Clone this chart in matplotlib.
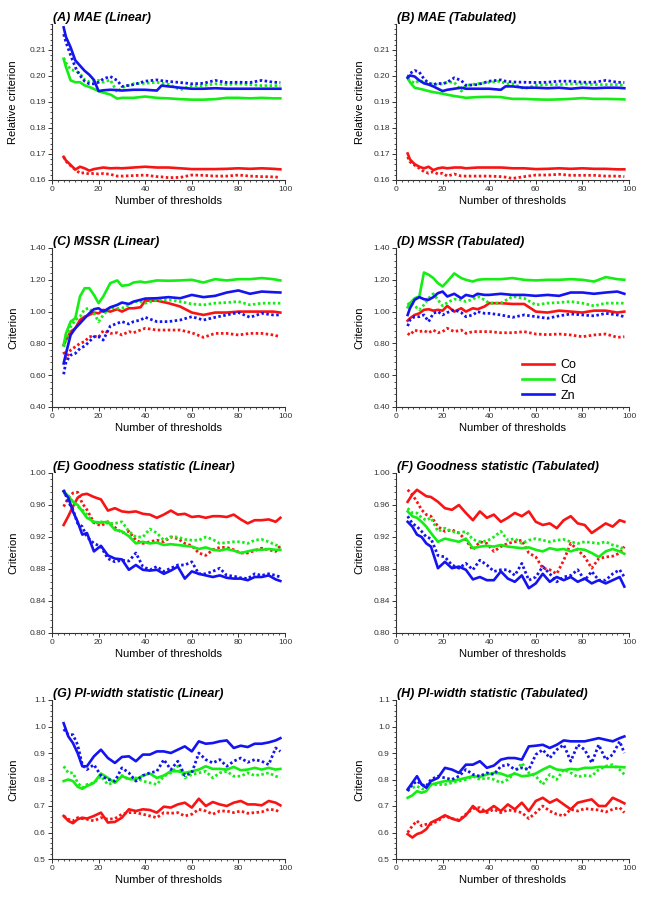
import numpy as np
import matplotlib
matplotlib.use("Agg")
import matplotlib.pyplot as plt
from matplotlib.ticker import MultipleLocator, FormatStrFormatter
from matplotlib.lines import Line2D

plt.rcParams['font.family'] = ['Liberation Sans', 'DejaVu Sans']

# x grids (number of thresholds)
x_ab = [5, 6, 8, 10, 12, 14, 16, 18, 20, 22, 25, 28, 30, 35, 40, 45, 47, 50, 55, 60, 65, 70, 75, 80, 85, 90, 95, 98]
x_cd = [5, 6, 8, 10, 12, 14, 16, 18, 20, 22, 25, 28, 30, 33, 35, 38, 40, 45, 50, 55, 60, 65, 70, 75, 80, 85, 90, 95, 98]
x_eh = [5, 7, 9, 11, 13, 15, 18, 21, 24, 27, 30, 33, 36, 39, 42, 45, 48, 51, 54, 57, 60, 63, 66, 69, 72, 75, 78, 81, 84, 87, 90, 93, 96, 98]

# (A) MAE (Linear)
a_co = [0.1689, 0.1675, 0.1658, 0.1640, 0.1651, 0.1645, 0.1636, 0.1642, 0.1645, 0.1648, 0.1645, 0.1646, 0.1645, 0.1648, 0.1651, 0.1648, 0.1648, 0.1648, 0.1645, 0.1642, 0.1642, 0.1642, 0.1643, 0.1645, 0.1643, 0.1645, 0.1643, 0.1641]
a_co_d = [0.1689, 0.1672, 0.1655, 0.1640, 0.1626, 0.1628, 0.1623, 0.1626, 0.1623, 0.1625, 0.1622, 0.1615, 0.1615, 0.1617, 0.1619, 0.1613, 0.1612, 0.1609, 0.1610, 0.1619, 0.1618, 0.1615, 0.1615, 0.1619, 0.1615, 0.1613, 0.1612, 0.1610]
a_cd = [0.2066, 0.2034, 0.1983, 0.1976, 0.1976, 0.1964, 0.1958, 0.1950, 0.1942, 0.1936, 0.1929, 0.1913, 0.1916, 0.1916, 0.1921, 0.1916, 0.1915, 0.1914, 0.1911, 0.1909, 0.1909, 0.1911, 0.1916, 0.1916, 0.1914, 0.1916, 0.1914, 0.1914]
a_cd_d = [0.2070, 0.2050, 0.2025, 0.2020, 0.2010, 0.1985, 0.1978, 0.1983, 0.1983, 0.1976, 0.1985, 0.1938, 0.1955, 0.1970, 0.1972, 0.1976, 0.1972, 0.1968, 0.1947, 0.1963, 0.1963, 0.1970, 0.1967, 0.1970, 0.1967, 0.1963, 0.1963, 0.1963]
a_zn = [0.2187, 0.2150, 0.2110, 0.2060, 0.2040, 0.2020, 0.2005, 0.1985, 0.1942, 0.1945, 0.1947, 0.1946, 0.1944, 0.1947, 0.1947, 0.1944, 0.1963, 0.1960, 0.1955, 0.1951, 0.1951, 0.1953, 0.1951, 0.1951, 0.1951, 0.1951, 0.1951, 0.1951]
a_zn_d = [0.2161, 0.2130, 0.2080, 0.2034, 0.2002, 0.1980, 0.1970, 0.1970, 0.1976, 0.1989, 0.1998, 0.1983, 0.1960, 0.1967, 0.1980, 0.1985, 0.1982, 0.1979, 0.1975, 0.1970, 0.1972, 0.1983, 0.1975, 0.1976, 0.1975, 0.1983, 0.1976, 0.1975]

# (B) MAE (Tabulated)
b_co = [0.1702, 0.1679, 0.1661, 0.1651, 0.1645, 0.1651, 0.1638, 0.1645, 0.1648, 0.1645, 0.1648, 0.1648, 0.1645, 0.1648, 0.1648, 0.1648, 0.1647, 0.1645, 0.1645, 0.1642, 0.1643, 0.1645, 0.1643, 0.1645, 0.1643, 0.1643, 0.1641, 0.1641]
b_co_d = [0.1689, 0.1670, 0.1657, 0.1645, 0.1632, 0.1626, 0.1632, 0.1623, 0.1626, 0.1615, 0.1623, 0.1615, 0.1615, 0.1615, 0.1615, 0.1613, 0.1611, 0.1606, 0.1613, 0.1619, 0.1619, 0.1622, 0.1618, 0.1618, 0.1618, 0.1615, 0.1615, 0.1613]
b_cd = [0.1993, 0.1976, 0.1955, 0.1951, 0.1947, 0.1942, 0.1938, 0.1935, 0.1932, 0.1928, 0.1923, 0.1919, 0.1916, 0.1919, 0.1920, 0.1919, 0.1916, 0.1912, 0.1912, 0.1910, 0.1909, 0.1910, 0.1912, 0.1915, 0.1912, 0.1912, 0.1911, 0.1910]
b_cd_d = [0.1989, 0.1983, 0.1972, 0.1983, 0.1976, 0.1970, 0.1970, 0.1967, 0.1970, 0.1976, 0.1976, 0.1942, 0.1964, 0.1970, 0.1976, 0.1980, 0.1970, 0.1970, 0.1951, 0.1964, 0.1967, 0.1967, 0.1970, 0.1970, 0.1967, 0.1967, 0.1967, 0.1964]
b_zn = [0.1993, 0.2002, 0.1998, 0.1983, 0.1972, 0.1967, 0.1960, 0.1951, 0.1942, 0.1947, 0.1951, 0.1955, 0.1951, 0.1951, 0.1951, 0.1947, 0.1960, 0.1960, 0.1955, 0.1955, 0.1953, 0.1955, 0.1951, 0.1955, 0.1953, 0.1955, 0.1955, 0.1953]
b_zn_d = [0.1995, 0.2010, 0.2021, 0.2015, 0.1989, 0.1972, 0.1967, 0.1972, 0.1970, 0.1976, 0.1993, 0.1983, 0.1964, 0.1967, 0.1980, 0.1985, 0.1980, 0.1977, 0.1976, 0.1975, 0.1976, 0.1980, 0.1980, 0.1976, 0.1976, 0.1983, 0.1976, 0.1975]

# (C) MSSR (Linear)
c_co = [0.790, 0.821, 0.874, 0.895, 0.947, 0.968, 0.979, 0.994, 0.989, 1.011, 1.000, 1.015, 1.000, 1.021, 1.021, 1.027, 1.069, 1.069, 1.053, 1.032, 0.994, 0.979, 0.994, 0.994, 1.000, 1.000, 1.000, 1.000, 0.994]
c_co_d = [0.747, 0.705, 0.758, 0.779, 0.800, 0.811, 0.842, 0.846, 0.838, 0.880, 0.863, 0.867, 0.853, 0.874, 0.867, 0.884, 0.895, 0.884, 0.884, 0.884, 0.867, 0.838, 0.863, 0.863, 0.853, 0.863, 0.863, 0.853, 0.842]
c_cd = [0.789, 0.863, 0.937, 0.958, 1.095, 1.147, 1.147, 1.105, 1.053, 1.095, 1.179, 1.196, 1.162, 1.168, 1.183, 1.189, 1.183, 1.196, 1.194, 1.196, 1.200, 1.183, 1.204, 1.196, 1.204, 1.204, 1.211, 1.204, 1.196]
c_cd_d = [0.779, 0.821, 0.905, 0.947, 0.968, 1.015, 1.021, 0.989, 0.937, 0.979, 1.027, 1.021, 1.021, 1.042, 1.063, 1.063, 1.053, 1.074, 1.074, 1.063, 1.048, 1.042, 1.053, 1.057, 1.063, 1.042, 1.053, 1.053, 1.053]
c_zn = [0.674, 0.737, 0.853, 0.895, 0.926, 0.958, 0.989, 1.015, 1.021, 1.000, 1.027, 1.042, 1.057, 1.048, 1.063, 1.074, 1.082, 1.084, 1.091, 1.084, 1.105, 1.091, 1.099, 1.120, 1.133, 1.112, 1.126, 1.122, 1.120]
c_zn_d = [0.606, 0.684, 0.726, 0.737, 0.768, 0.783, 0.811, 0.842, 0.842, 0.821, 0.909, 0.926, 0.937, 0.922, 0.937, 0.947, 0.964, 0.937, 0.937, 0.947, 0.968, 0.947, 0.964, 0.979, 0.994, 0.964, 0.989, 0.979, 0.979]

# (D) MSSR (Tabulated)
d_co = [0.943, 0.958, 0.979, 0.989, 1.011, 1.015, 1.006, 1.011, 1.006, 1.036, 1.000, 1.021, 1.000, 1.021, 1.015, 1.032, 1.053, 1.053, 1.048, 1.048, 1.000, 0.994, 1.006, 1.000, 0.994, 1.006, 1.006, 0.994, 1.000]
d_co_d = [0.863, 0.853, 0.884, 0.874, 0.880, 0.867, 0.884, 0.867, 0.874, 0.895, 0.874, 0.884, 0.863, 0.874, 0.874, 0.874, 0.874, 0.867, 0.867, 0.874, 0.859, 0.855, 0.859, 0.853, 0.842, 0.853, 0.859, 0.838, 0.842]
d_cd = [1.027, 1.053, 1.084, 1.095, 1.246, 1.232, 1.211, 1.179, 1.158, 1.189, 1.240, 1.211, 1.200, 1.189, 1.200, 1.204, 1.204, 1.204, 1.211, 1.200, 1.196, 1.200, 1.200, 1.204, 1.200, 1.189, 1.217, 1.204, 1.200]
d_cd_d = [1.042, 1.057, 1.036, 1.011, 1.042, 1.084, 1.112, 1.074, 1.036, 1.057, 1.078, 1.074, 1.063, 1.078, 1.095, 1.074, 1.053, 1.053, 1.095, 1.084, 1.042, 1.053, 1.057, 1.063, 1.053, 1.036, 1.053, 1.053, 1.053]
d_zn = [0.979, 1.021, 1.074, 1.091, 1.078, 1.074, 1.091, 1.116, 1.126, 1.095, 1.112, 1.084, 1.105, 1.095, 1.112, 1.105, 1.105, 1.112, 1.105, 1.105, 1.099, 1.105, 1.099, 1.120, 1.120, 1.112, 1.120, 1.126, 1.112]
d_zn_d = [0.909, 0.947, 0.968, 0.968, 0.979, 0.937, 0.989, 1.000, 0.979, 0.994, 1.011, 0.994, 0.968, 0.979, 1.000, 0.989, 0.989, 0.979, 0.964, 0.979, 0.968, 0.958, 0.973, 0.985, 0.979, 0.973, 0.989, 0.979, 0.968]

# (E) Goodness statistic (Linear)
e_co = [0.935, 0.946, 0.958, 0.969, 0.973, 0.974, 0.970, 0.967, 0.953, 0.956, 0.952, 0.951, 0.952, 0.949, 0.948, 0.944, 0.948, 0.953, 0.948, 0.949, 0.945, 0.946, 0.944, 0.946, 0.946, 0.945, 0.948, 0.942, 0.937, 0.941, 0.941, 0.942, 0.939, 0.944]
e_co_d = [0.958, 0.969, 0.975, 0.976, 0.962, 0.954, 0.938, 0.934, 0.939, 0.932, 0.925, 0.927, 0.916, 0.912, 0.914, 0.916, 0.914, 0.920, 0.918, 0.912, 0.909, 0.900, 0.897, 0.904, 0.907, 0.907, 0.904, 0.900, 0.900, 0.903, 0.906, 0.904, 0.902, 0.909]
e_cd = [0.977, 0.971, 0.964, 0.960, 0.952, 0.944, 0.939, 0.938, 0.939, 0.929, 0.927, 0.921, 0.912, 0.914, 0.912, 0.913, 0.910, 0.911, 0.910, 0.909, 0.908, 0.905, 0.907, 0.904, 0.903, 0.905, 0.903, 0.900, 0.902, 0.904, 0.904, 0.905, 0.904, 0.904]
e_cd_d = [0.975, 0.971, 0.964, 0.958, 0.954, 0.948, 0.937, 0.939, 0.937, 0.937, 0.939, 0.927, 0.920, 0.920, 0.930, 0.925, 0.916, 0.920, 0.920, 0.917, 0.916, 0.916, 0.920, 0.917, 0.912, 0.913, 0.914, 0.914, 0.912, 0.916, 0.917, 0.914, 0.910, 0.909]
e_zn = [0.977, 0.969, 0.952, 0.939, 0.923, 0.925, 0.902, 0.909, 0.897, 0.893, 0.892, 0.879, 0.885, 0.879, 0.878, 0.879, 0.874, 0.878, 0.883, 0.868, 0.877, 0.874, 0.872, 0.870, 0.872, 0.869, 0.868, 0.868, 0.866, 0.870, 0.870, 0.872, 0.867, 0.865]
e_zn_d = [0.979, 0.964, 0.954, 0.937, 0.933, 0.920, 0.912, 0.908, 0.893, 0.889, 0.891, 0.890, 0.900, 0.883, 0.879, 0.883, 0.877, 0.881, 0.885, 0.885, 0.889, 0.874, 0.874, 0.877, 0.881, 0.872, 0.871, 0.869, 0.868, 0.874, 0.872, 0.874, 0.872, 0.870]

# (F) Goodness statistic (Tabulated)
f_co = [0.964, 0.973, 0.979, 0.975, 0.971, 0.970, 0.964, 0.956, 0.954, 0.960, 0.950, 0.941, 0.952, 0.944, 0.948, 0.939, 0.944, 0.950, 0.946, 0.952, 0.939, 0.935, 0.937, 0.931, 0.941, 0.946, 0.937, 0.935, 0.925, 0.931, 0.937, 0.933, 0.941, 0.939]
f_co_d = [0.979, 0.973, 0.964, 0.954, 0.948, 0.946, 0.933, 0.927, 0.929, 0.925, 0.916, 0.904, 0.914, 0.912, 0.902, 0.908, 0.912, 0.914, 0.916, 0.900, 0.895, 0.881, 0.879, 0.874, 0.891, 0.912, 0.904, 0.895, 0.881, 0.893, 0.895, 0.896, 0.900, 0.908]
f_cd = [0.952, 0.946, 0.944, 0.939, 0.933, 0.925, 0.914, 0.918, 0.916, 0.914, 0.918, 0.906, 0.908, 0.909, 0.908, 0.910, 0.908, 0.907, 0.906, 0.907, 0.904, 0.902, 0.906, 0.904, 0.905, 0.902, 0.905, 0.904, 0.900, 0.895, 0.902, 0.905, 0.902, 0.899]
f_cd_d = [0.956, 0.950, 0.950, 0.944, 0.941, 0.944, 0.927, 0.931, 0.927, 0.925, 0.927, 0.917, 0.914, 0.915, 0.920, 0.927, 0.916, 0.918, 0.912, 0.916, 0.918, 0.916, 0.914, 0.916, 0.917, 0.914, 0.912, 0.914, 0.913, 0.912, 0.914, 0.910, 0.908, 0.904]
f_zn = [0.939, 0.933, 0.923, 0.920, 0.912, 0.908, 0.881, 0.889, 0.881, 0.883, 0.879, 0.867, 0.870, 0.866, 0.866, 0.877, 0.868, 0.864, 0.872, 0.856, 0.862, 0.874, 0.864, 0.870, 0.866, 0.870, 0.864, 0.868, 0.862, 0.866, 0.862, 0.866, 0.870, 0.858]
f_zn_d = [0.946, 0.937, 0.933, 0.927, 0.920, 0.918, 0.897, 0.895, 0.885, 0.881, 0.887, 0.879, 0.891, 0.885, 0.877, 0.879, 0.879, 0.872, 0.887, 0.866, 0.870, 0.883, 0.874, 0.864, 0.870, 0.872, 0.879, 0.866, 0.877, 0.866, 0.866, 0.874, 0.879, 0.870]

# (G) PI-width statistic (Linear)
g_co = [0.6625, 0.644, 0.635, 0.650, 0.656, 0.6525, 0.6625, 0.675, 0.6375, 0.640, 0.656, 0.6875, 0.681, 0.6875, 0.685, 0.675, 0.6975, 0.694, 0.706, 0.7125, 0.694, 0.7275, 0.700, 0.715, 0.706, 0.700, 0.7125, 0.719, 0.706, 0.706, 0.7025, 0.719, 0.7125, 0.7025]
g_co_d = [0.6625, 0.650, 0.644, 0.656, 0.6525, 0.650, 0.644, 0.656, 0.650, 0.6525, 0.669, 0.675, 0.675, 0.669, 0.6625, 0.656, 0.675, 0.6725, 0.675, 0.6625, 0.669, 0.6875, 0.681, 0.669, 0.681, 0.681, 0.675, 0.681, 0.6725, 0.675, 0.6775, 0.6875, 0.685, 0.675]
g_cd = [0.794, 0.800, 0.794, 0.7725, 0.765, 0.775, 0.7875, 0.8225, 0.806, 0.7875, 0.8125, 0.8025, 0.800, 0.815, 0.8225, 0.806, 0.815, 0.831, 0.831, 0.825, 0.831, 0.8375, 0.850, 0.840, 0.840, 0.8375, 0.8475, 0.835, 0.8375, 0.844, 0.8375, 0.844, 0.8375, 0.840]
g_cd_d = [0.850, 0.825, 0.825, 0.7875, 0.769, 0.781, 0.7875, 0.8125, 0.781, 0.790, 0.815, 0.800, 0.806, 0.794, 0.7875, 0.781, 0.8125, 0.825, 0.850, 0.806, 0.819, 0.825, 0.831, 0.806, 0.825, 0.831, 0.8125, 0.8125, 0.825, 0.815, 0.819, 0.825, 0.8125, 0.806]
g_zn = [1.0125, 0.9625, 0.9375, 0.900, 0.850, 0.850, 0.8875, 0.9125, 0.881, 0.8625, 0.885, 0.8875, 0.869, 0.894, 0.894, 0.906, 0.906, 0.900, 0.9125, 0.925, 0.906, 0.944, 0.935, 0.9375, 0.944, 0.9475, 0.919, 0.9275, 0.9225, 0.935, 0.935, 0.940, 0.9475, 0.956]
g_zn_d = [0.990, 0.969, 0.969, 0.931, 0.856, 0.8375, 0.856, 0.815, 0.800, 0.794, 0.844, 0.825, 0.794, 0.815, 0.825, 0.831, 0.875, 0.8375, 0.869, 0.815, 0.825, 0.900, 0.875, 0.8625, 0.875, 0.850, 0.869, 0.881, 0.865, 0.875, 0.869, 0.856, 0.919, 0.906]

# (H) PI-width statistic (Tabulated)
h_co = [0.594, 0.581, 0.594, 0.600, 0.6125, 0.6375, 0.650, 0.665, 0.6525, 0.644, 0.665, 0.700, 0.6775, 0.681, 0.700, 0.681, 0.706, 0.6875, 0.7125, 0.681, 0.719, 0.731, 0.7125, 0.725, 0.706, 0.6875, 0.7125, 0.719, 0.725, 0.700, 0.700, 0.731, 0.719, 0.710]
h_co_d = [0.600, 0.625, 0.644, 0.625, 0.631, 0.631, 0.644, 0.6625, 0.6525, 0.6475, 0.669, 0.690, 0.694, 0.675, 0.6875, 0.675, 0.685, 0.681, 0.675, 0.6525, 0.675, 0.700, 0.681, 0.669, 0.6625, 0.6875, 0.681, 0.690, 0.6875, 0.685, 0.6775, 0.6875, 0.694, 0.675]
h_cd = [0.731, 0.740, 0.756, 0.750, 0.756, 0.781, 0.7875, 0.794, 0.794, 0.800, 0.806, 0.8125, 0.810, 0.819, 0.825, 0.8225, 0.8125, 0.8225, 0.8125, 0.815, 0.8225, 0.8375, 0.850, 0.8375, 0.835, 0.840, 0.8375, 0.844, 0.844, 0.8475, 0.8475, 0.8475, 0.8475, 0.846]
h_cd_d = [0.765, 0.769, 0.775, 0.765, 0.7625, 0.781, 0.781, 0.781, 0.7875, 0.794, 0.800, 0.8125, 0.800, 0.806, 0.800, 0.7875, 0.800, 0.825, 0.8625, 0.825, 0.8125, 0.781, 0.819, 0.800, 0.8375, 0.825, 0.810, 0.815, 0.8125, 0.8375, 0.850, 0.856, 0.8375, 0.819]
h_zn = [0.7625, 0.7875, 0.8125, 0.781, 0.769, 0.794, 0.806, 0.844, 0.8375, 0.825, 0.856, 0.856, 0.869, 0.844, 0.8525, 0.875, 0.881, 0.881, 0.875, 0.925, 0.9275, 0.931, 0.919, 0.931, 0.9475, 0.944, 0.944, 0.944, 0.950, 0.956, 0.950, 0.944, 0.956, 0.9625]
h_zn_d = [0.756, 0.781, 0.794, 0.781, 0.775, 0.800, 0.8125, 0.806, 0.800, 0.8125, 0.8375, 0.819, 0.8125, 0.825, 0.819, 0.850, 0.856, 0.8375, 0.844, 0.8375, 0.894, 0.9125, 0.881, 0.9125, 0.931, 0.869, 0.931, 0.9125, 0.8625, 0.931, 0.875, 0.894, 0.944, 0.900]

metals = ['Co', 'Cd', 'Zn']
colors = {'Co': '#f81414', 'Cd': '#14ee14', 'Zn': '#1414f0'}

# panel layout in figure fractions
col_left = [52 / 654, 396 / 654]
col_w = 233 / 654
ylabel_x = [-0.144, -0.135]
rows = [(1 - 180 / 898, 156 / 898), (1 - 407 / 898, 159 / 898),
        (1 - 633 / 898, 160 / 898), (1 - 859 / 898, 159 / 898)]

panels = [
    ('(A) MAE (Linear)', x_ab, [a_co, a_cd, a_zn], [a_co_d, a_cd_d, a_zn_d], 'Relative criterion', (0.16, 0.22), np.arange(0.16, 0.2101, 0.01), 0.002, '%.2f'),
    ('(B) MAE (Tabulated)', x_ab, [b_co, b_cd, b_zn], [b_co_d, b_cd_d, b_zn_d], 'Relative criterion', (0.16, 0.22), np.arange(0.16, 0.2101, 0.01), 0.002, '%.2f'),
    ('(C) MSSR (Linear)', x_cd, [c_co, c_cd, c_zn], [c_co_d, c_cd_d, c_zn_d], 'Criterion', (0.4, 1.4), np.arange(0.4, 1.401, 0.2), 0.04, '%.2f'),
    ('(D) MSSR (Tabulated)', x_cd, [d_co, d_cd, d_zn], [d_co_d, d_cd_d, d_zn_d], 'Criterion', (0.4, 1.4), np.arange(0.4, 1.401, 0.2), 0.04, '%.2f'),
    ('(E) Goodness statistic (Linear)', x_eh, [e_co, e_cd, e_zn], [e_co_d, e_cd_d, e_zn_d], 'Criterion', (0.8, 1.0), np.arange(0.8, 1.001, 0.04), 0.008, '%.2f'),
    ('(F) Goodness statistic (Tabulated)', x_eh, [f_co, f_cd, f_zn], [f_co_d, f_cd_d, f_zn_d], 'Criterion', (0.8, 1.0), np.arange(0.8, 1.001, 0.04), 0.008, '%.2f'),
    ('(G) PI-width statistic (Linear)', x_eh, [g_co, g_cd, g_zn], [g_co_d, g_cd_d, g_zn_d], 'Criterion', (0.5, 1.1), np.arange(0.5, 1.101, 0.1), 0.02, '%.1f'),
    ('(H) PI-width statistic (Tabulated)', x_eh, [h_co, h_cd, h_zn], [h_co_d, h_cd_d, h_zn_d], 'Criterion', (0.5, 1.1), np.arange(0.5, 1.101, 0.1), 0.02, '%.1f'),
]

fig = plt.figure(figsize=(6.54, 8.98), dpi=100)

for i, (title, x, solids, dots, ylabel, ylim, yticks, yminor, fmt) in enumerate(panels):
    bottom, height = rows[i // 2]
    ax = fig.add_axes([col_left[i % 2], bottom, col_w, height])

    for metal, s, d in zip(metals, solids, dots):
        ax.plot(x, d, color=colors[metal], lw=2.0, linestyle=(0, (0.9, 0.9)))
        ax.plot(x, s, color=colors[metal], lw=1.9, solid_joinstyle='round')

    ax.set_xlim(0, 100)
    ax.set_ylim(*ylim)
    ax.set_xticks([0, 20, 40, 60, 80, 100])
    ax.xaxis.set_minor_locator(MultipleLocator(2.5))
    ax.set_yticks(yticks)
    ax.yaxis.set_major_formatter(FormatStrFormatter(fmt))
    ax.yaxis.set_minor_locator(MultipleLocator(yminor))

    for side in ['top', 'right']:
        ax.spines[side].set_visible(False)
    for side in ['left', 'bottom']:
        ax.spines[side].set_color('#333333')
        ax.spines[side].set_linewidth(0.8)

    ax.tick_params(axis='both', which='major', direction='out', length=3, width=0.7,
                   labelsize=6, colors='#333333', pad=1.5)
    ax.tick_params(axis='both', which='minor', direction='out', length=1.6, width=0.6,
                   colors='#333333')

    ax.set_xlabel('Number of thresholds', fontsize=8, labelpad=2)
    ax.set_ylabel(ylabel, fontsize=8)
    ax.yaxis.set_label_coords(ylabel_x[i % 2], 0.5)
    ax.text(0.005, 1.0, title, transform=ax.transAxes, fontsize=9,
            fontweight='bold', fontstyle='italic', ha='left', va='bottom')

    if i == 3:
        handles = [Line2D([0], [0], color=colors[m], lw=1.9) for m in metals]
        ax.legend(handles, metals, loc='upper left', bbox_to_anchor=(0.54, 0.30),
                  frameon=False, fontsize=9, handlelength=2.6, handletextpad=0.5,
                  labelspacing=0.25, borderpad=0, borderaxespad=0)

fig.savefig('out.png', dpi=100)
